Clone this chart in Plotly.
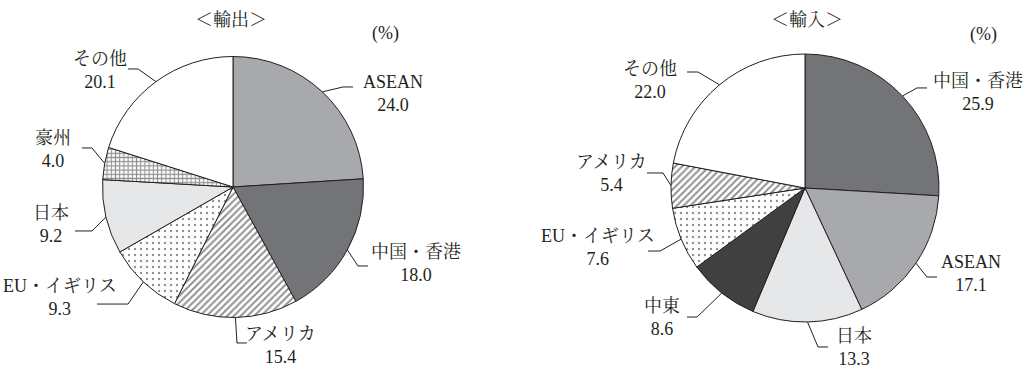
import math
import plotly.graph_objects as go

W, H = 1028, 369

# ---- data -------------------------------------------------------------
export_labels = ["ASEAN", "中国・香港", "アメリカ", "EU・イギリス", "日本", "豪州", "その他"]
export_values = [24.0, 18.0, 15.4, 9.3, 9.2, 4.0, 20.1]

import_labels = ["中国・香港", "ASEAN", "日本", "中東", "EU・イギリス", "アメリカ", "その他"]
import_values = [25.9, 17.1, 13.3, 8.6, 7.6, 5.4, 22.0]

titles = ["＜輸出＞", "＜輸入＞"]
unit_label = "(%)"

# ---- styles -------------------------------------------------------------
INK = "#231f20"
FONT = "Liberation Serif, 'Noto Serif CJK JP', 'Noto Sans CJK JP', serif"

fill_color = {
    "ASEAN": "#a7a9ac",
    "中国・香港": "#737477",
    "アメリカ": "#ffffff",
    "EU・イギリス": "#ffffff",
    "日本": "#e6e7e8",
    "豪州": "#ffffff",
    "中東": "#404041",
    "その他": "#ffffff",
}
fill_pattern = {"アメリカ": "/", "EU・イギリス": ".", "豪州": "+"}
pattern_size = {"/": 4.8, ".": 6, "+": 4.2}
pattern_solid = {"/": 0.4, ".": 0.12, "+": 0.45}

# pie geometry in pixels: centre x, centre y, radius
export_geom = (233, 187, 130.5)
import_geom = (805, 188, 134)

# leader lines: elbow offset from the rim point, horizontal run, label offset
export_elbow = [(20.7, -4.9), (10.6, 16.1), (1.5, 25.5), (-15.3, 22.2),
                (-14, 13.9), (-12.7, -15.4), (-18, -12.7)]
export_run = [10, 10, 10, -31, -17, -10, -10]
export_text = [(39.5, 7), (48, -2), (33.5, 2.5), (-37.5, -6.5),
               (-24.5, -6), (-29, 2), (-27.5, 2)]

import_elbow = [(14.5, -8.1), (11.1, 13.8), (10.5, 25), (-24.8, 24),
                (-21.1, 11.9), (-8, -12.7), (-21.5, -12.8)]
import_run = [10, 10, 10, -10, -12, -16, -11]
import_text = [(51.5, 4.5), (33.5, -3.5), (26, 0.5), (-25.5, 0.5),
               (-50.5, -3.5), (-35.5, 1), (-37.5, 8.5)]

title_pos = [(231, 20), (807, 20)]
unit_pos = [(385, 33), (983, 35)]


def px(x):
    return x / W


def py(y):
    return 1 - y / H


def pie_trace(labels, values, geom):
    cx, cy, r = geom
    shapes = [fill_pattern.get(l, "") for l in labels]
    return go.Pie(
        labels=labels,
        values=values,
        sort=False,
        direction="clockwise",
        rotation=0,
        textinfo="none",
        hoverinfo="label+value",
        showlegend=False,
        domain=dict(x=[px(cx - r), px(cx + r)], y=[py(cy + r), py(cy - r)]),
        marker=dict(
            colors=[fill_color[l] for l in labels],
            line=dict(color=INK, width=1),
            pattern=dict(
                shape=shapes,
                fillmode="overlay",
                fgcolor=INK,
                size=[pattern_size.get(s, 6) for s in shapes],
                solidity=[pattern_solid.get(s, 0.3) for s in shapes],
            ),
        ),
    )


def callouts(labels, values, geom, elbows, runs, texts):
    cx, cy, r = geom
    total = sum(values)
    cum = 0.0
    shapes, notes = [], []
    for lab, val, (edx, edy), run, (tdx, tdy) in zip(labels, values, elbows, runs, texts):
        mid = (cum + val / 2) / total * 2 * math.pi
        cum += val
        x0, y0 = cx + r * math.sin(mid), cy - r * math.cos(mid)
        x1, y1 = x0 + edx, y0 + edy
        x2, y2 = x1 + run, y1
        shapes.append(dict(
            type="path", xref="paper", yref="paper",
            path=f"M{px(x0)},{py(y0)} L{px(x1)},{py(y1)} L{px(x2)},{py(y2)}",
            line=dict(color=INK, width=1),
        ))
        notes.append(dict(
            x=px(x2 + tdx), y=py(y2 + tdy), xref="paper", yref="paper",
            text=f"{lab}<br>{val:.1f}", showarrow=False,
            xanchor="center", yanchor="middle", align="center",
            font=dict(family=FONT, size=18, color=INK),
        ))
    return shapes, notes


fig = go.Figure()
fig.add_trace(pie_trace(export_labels, export_values, export_geom))
fig.add_trace(pie_trace(import_labels, import_values, import_geom))

s1, a1 = callouts(export_labels, export_values, export_geom,
                  export_elbow, export_run, export_text)
s2, a2 = callouts(import_labels, import_values, import_geom,
                  import_elbow, import_run, import_text)

annotations = a1 + a2
for t, (tx, ty) in zip(titles, title_pos):
    annotations.append(dict(x=px(tx), y=py(ty), xref="paper", yref="paper",
                            text=t, showarrow=False, xanchor="center", yanchor="middle",
                            font=dict(family=FONT, size=18, color=INK)))
for ux, uy in unit_pos:
    annotations.append(dict(x=px(ux), y=py(uy), xref="paper", yref="paper",
                            text=unit_label, showarrow=False, xanchor="center", yanchor="middle",
                            font=dict(family=FONT, size=18, color=INK)))

fig.update_layout(
    width=W, height=H,
    margin=dict(l=0, r=0, t=0, b=0),
    paper_bgcolor="white", plot_bgcolor="white",
    shapes=s1 + s2,
    annotations=annotations,
)

fig.write_html("out.html")
